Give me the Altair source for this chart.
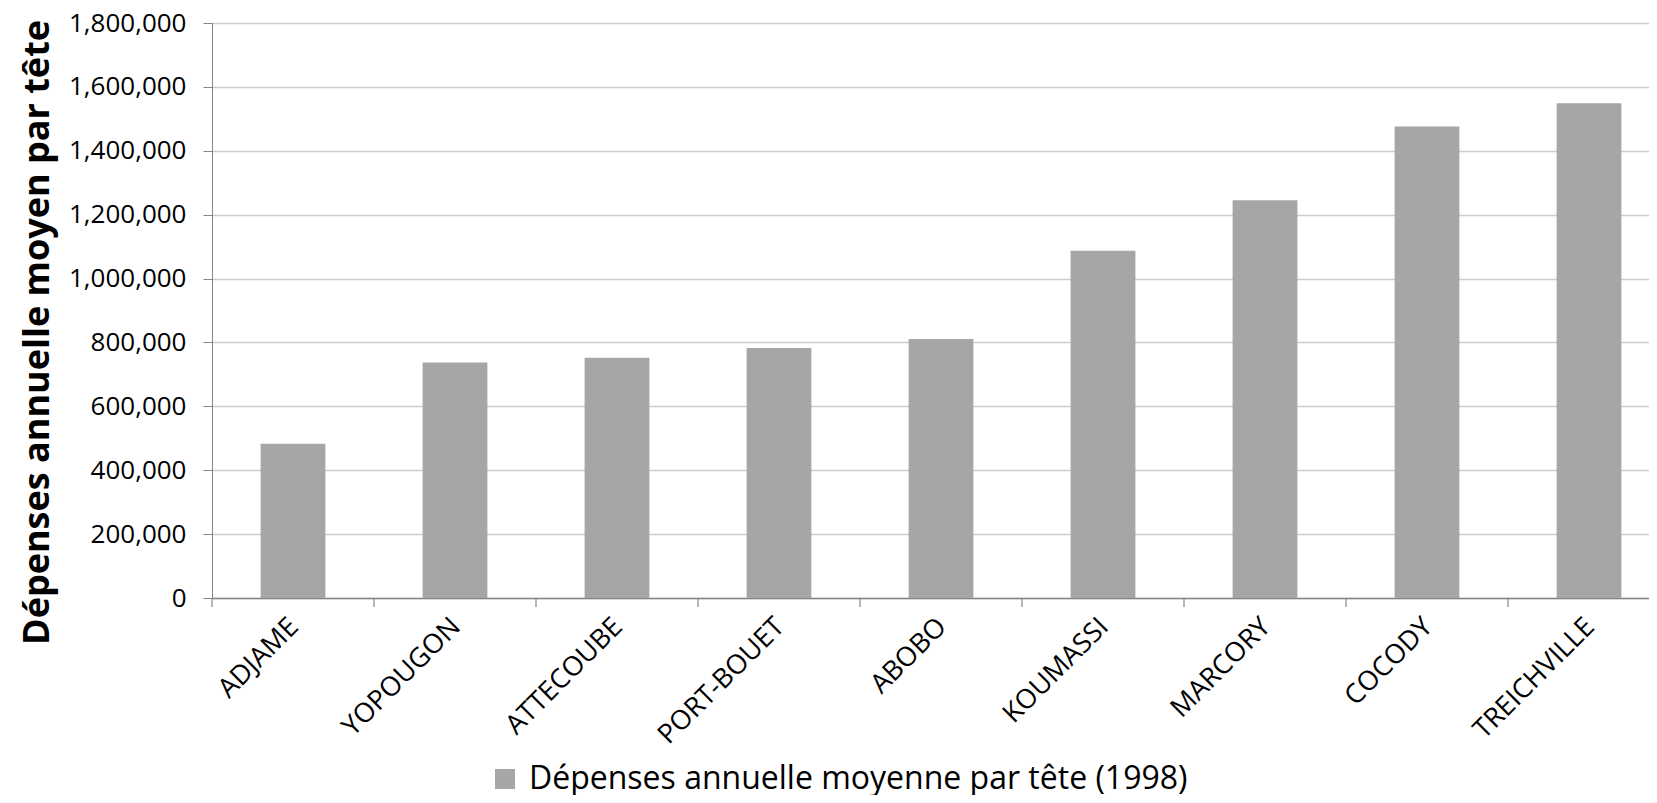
import altair as alt
import pandas as pd

categories = ["ADJAME", "YOPOUGON", "ATTECOUBE", "PORT-BOUET", "ABOBO",
              "KOUMASSI", "MARCORY", "COCODY", "TREICHVILLE"]
values = [483000, 737000, 752000, 783000, 811000, 1087000, 1245000, 1476000, 1549000]
series_name = "Dépenses annuelle moyenne par tête (1998)"
y_title = "Dépenses annuelle moyen par tête"
y_tick_values = [0, 200000, 400000, 600000, 800000, 1000000, 1200000, 1400000, 1600000, 1800000]

df = pd.DataFrame({"commune": categories, "valeur": values,
                   "serie": [series_name] * len(categories)})

W, H = 1458, 575
FONT = "Open Sans"
AXIS_GRAY = "#868686"
PAD_INNER, PAD_OUTER = 0.6, 0.3
STEP = W / len(categories)

x_scale = alt.Scale(paddingInner=PAD_INNER, paddingOuter=PAD_OUTER)

bars = alt.Chart(df).mark_bar().encode(
    x=alt.X("commune:N", sort=categories, scale=x_scale,
            axis=alt.Axis(title=None, labelAngle=-45, labelFontSize=27, labelFont=FONT,
                          labelColor="black", ticks=False, domain=True,
                          domainColor=AXIS_GRAY, domainWidth=1.5,
                          labelPadding=15, labelOffset=-8, grid=False)),
    y=alt.Y("valeur:Q", scale=alt.Scale(domain=[0, 1800000], nice=False),
            axis=alt.Axis(values=y_tick_values, format=",.0f", title=y_title,
                          labelFont=FONT, labelFontSize=26, labelColor="black",
                          labelPadding=17, tickSize=9, tickColor=AXIS_GRAY,
                          domainColor=AXIS_GRAY, gridColor="#CCCCCC", gridWidth=1.5,
                          titleFont=FONT, titleFontSize=36, titleFontWeight="bold",
                          titleColor="black", titleAngle=270, titleX=-175, titleY=309,
                          titleAlign="center", titleBaseline="middle")),
    color=alt.Color("serie:N", scale=alt.Scale(range=["#A6A6A6"]),
                    legend=alt.Legend(title=None, orient="none", legendX=277, legendY=740,
                                      symbolType="square", symbolSize=400,
                                      symbolStrokeWidth=0, labelFont=FONT,
                                      labelFontSize=32, labelColor="black",
                                      labelOffset=8, labelLimit=2000)),
)

# category boundary ticks (Excel style): shift from the bar's start to the band boundary
tick_marks = alt.Chart(df).mark_rule(
    color=AXIS_GRAY, strokeWidth=1.2, xOffset=-PAD_OUTER * STEP
).encode(
    x=alt.X("commune:N", sort=categories, bandPosition=0),
    y=alt.value(H),
    y2=alt.value(H + 9),
)

chart = alt.layer(bars, tick_marks).properties(
    width=W, height=H,
    autosize=alt.AutoSizeParams(type="none"),
    padding={"left": 204, "top": 15, "right": -21, "bottom": 197},
).configure_view(stroke=None).configure(background="white")

chart.save("out.html", embed_options={"renderer": "svg", "actions": False})
